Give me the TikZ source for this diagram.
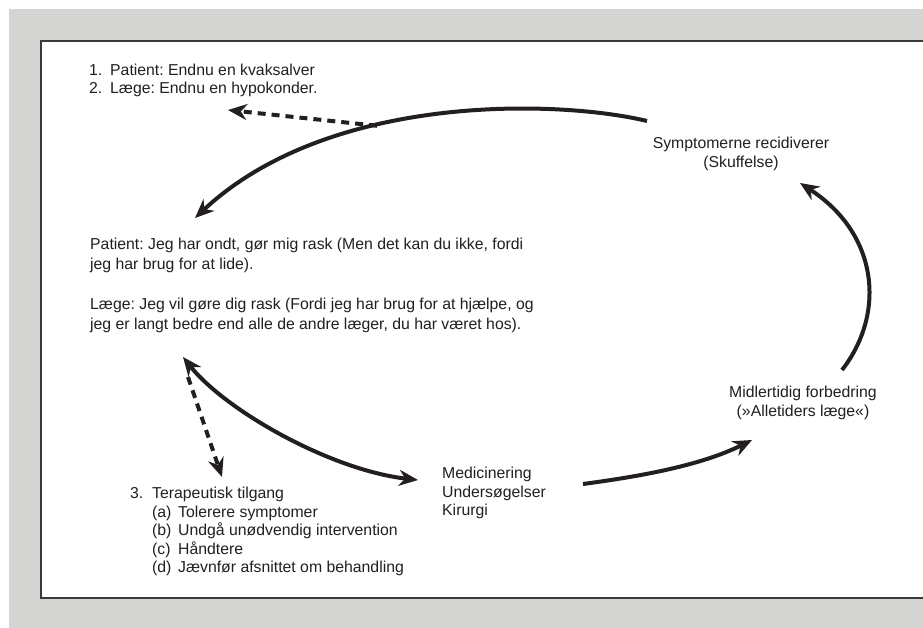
\documentclass[tikz,border=0pt]{standalone}
\usepackage{fontspec}
\setmainfont{Liberation Sans}
\usetikzlibrary{arrows.meta}
\definecolor{ink}{HTML}{231F20}
\definecolor{panel}{HTML}{D4D5D3}
\definecolor{frame}{HTML}{3A3A3A}
\newcommand\lnum[2][21pt]{\makebox[#1][l]{#2}}
\frenchspacing
\tikzset{
    >=Stealth,
    every node/.style={inner sep=0pt, text=ink}
}

\begin{document}
\begin{tikzpicture}[x=1pt, y=-1pt,
  >={Stealth[length=19pt,width=16pt]},
  lbl/.style={align=left, font=\fontsize{15.8}{18.5}\selectfont},
  flow/.style={->, line width=4pt, draw=ink},
  dflow/.style={flow, dash pattern=on 8pt off 6pt}
]
  \useasboundingbox (0,0) rectangle (923,628);
  % background panel and frame
  \fill[panel] (9,9) rectangle (923,628);
  \filldraw[fill=white, draw=frame, line width=1.3pt] (41,41) rectangle (940,598);

  % texts
  \node[lbl, anchor=north west] (kvak) at (89,63.5)
    {\lnum{1.}Patient: Endnu en kvaksalver\\
     \lnum{2.}Læge: Endnu en hypokonder.};
  \node[lbl, anchor=north west, font=\fontsize{15.8}{20}\selectfont] (patient) at (90,238)
    {Patient: Jeg har ondt, gør mig rask (Men det kan du ikke, fordi\\
     jeg har brug for at lide).\\[20pt]
     Læge: Jeg vil gøre dig rask (Fordi jeg har brug for at hjælpe, og\\
     jeg er langt bedre end alle de andre læger, du har været hos).};
  \node[lbl, anchor=north west] (terapi) at (130,487)
    {\lnum[22pt]{3.}Terapeutisk tilgang\\
     \hspace*{22pt}\lnum[26pt]{(a)}Tolerere symptomer\\
     \hspace*{22pt}\lnum[26pt]{(b)}Undgå unødvendig intervention\\
     \hspace*{22pt}\lnum[26pt]{(c)}Håndtere\\
     \hspace*{22pt}\lnum[26pt]{(d)}Jævnfør afsnittet om behandling};
  \node[lbl, anchor=north west] (medicin) at (442,467)
    {Medicinering\\ Undersøgelser\\ Kirurgi};
  \node[lbl, anchor=north, align=center] (midl) at (803,386)
    {Midlertidig forbedring\\ (»Alletiders læge«)};
  \node[lbl, anchor=north, align=center] (sympt) at (741,137)
    {Symptomerne recidiverer\\ (Skuffelse)};

  % cycle arrows
  \draw[flow] ([shift={(-94,-16)}]sympt.north)
    .. controls +(-87,-21) and +(135,-126) .. coordinate[pos=0.62] (brk)
    ([shift={(105,-20)}]patient.north west);
  \draw[dflow] (brk) -- ([shift={(139,46.5)}]kvak.north west);
  \draw[flow, <->]
    ([shift={(93,119)}]patient.north west)
    .. controls +(42,53) and +(-88,-10) .. ([shift={(-24,13)}]medicin.north west);
  \draw[dflow] ([shift={(98,139)}]patient.north west) -- ([shift={(92,-10)}]terapi.north west);
  \draw[flow] ([shift={(141,17)}]medicin.north west)
    .. controls +(60,-8) and +(-50,25) .. ([shift={(-51,54)}]midl.north);
  \draw[flow] ([shift={(39,-16)}]midl.north)
    .. controls +(43,-55) and +(80,52) .. ([shift={(59,46)}]sympt.north);
\end{tikzpicture}
\end{document}
